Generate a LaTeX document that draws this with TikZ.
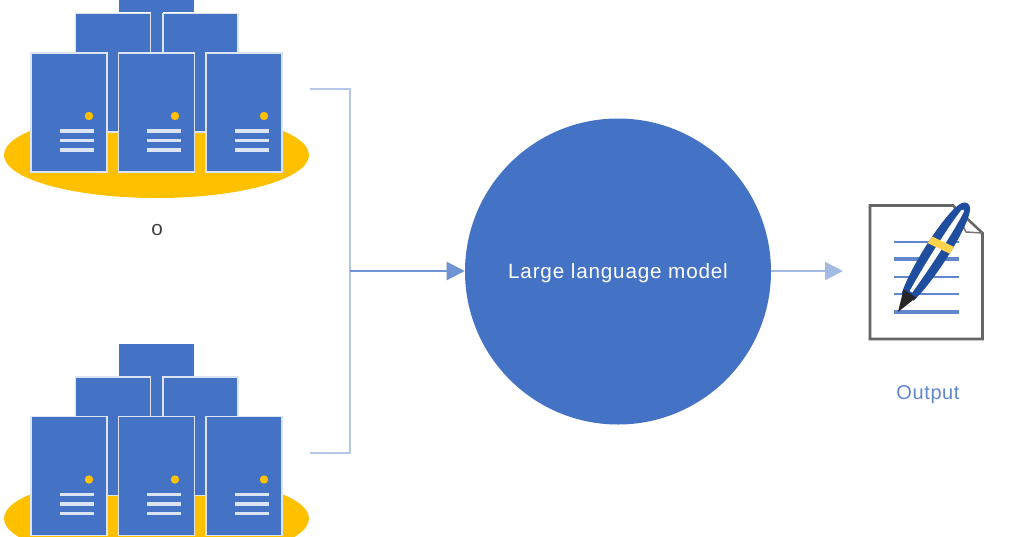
\documentclass[tikz,border=0pt]{standalone}
\usepackage{fontspec}
\setmainfont{Liberation Sans}
\usetikzlibrary{arrows.meta}
\definecolor{mblue}{HTML}{4472C4}
\definecolor{mgold}{HTML}{FFC000}
\definecolor{medge}{HTML}{DCE4F3}
\definecolor{brk}{HTML}{B4C7E7}
\definecolor{arr}{HTML}{6F93D3}
\definecolor{arrb}{HTML}{A3BAE3}
\definecolor{penblue}{HTML}{1F4E9E}
\tikzset{
  x=0.75pt,y=-0.75pt,
  box/.style={fill=mblue,draw=medge,line width=1.3pt},
  flat/.style={fill=mblue,draw=none},
  led/.style={fill=mgold,draw=none},
  slot/.style={draw=medge,line width=2.4pt},
  bracket/.style={draw=brk,line width=1.6pt},
  flow/.style={line width=1.7pt,-{Triangle[length=13.5pt,width=13.5pt]}},
  docline/.style={draw=mblue!85!white,line width=1.1pt},
  doclinethick/.style={draw=mblue!85!white,line width=2.3pt},
  lbl/.style={font=\fontsize{15.5}{17}\selectfont\addfontfeature{LetterSpace=4},text depth=0pt},
  pics/cluster/.style={code={
    \fill[mgold] (156.5,155) ellipse [x radius=152.5,y radius=43];
    \fill[flat] (119,-20) rectangle (194,12);
    \fill[flat] (151,12) rectangle (163,53);
    \path[box] (75.5,13.5) rectangle (150.5,132);
    \path[box] (163,13.5) rectangle (238,132);
    \draw[medge,line width=1.3pt] (75.5,132) -- (238,132);
    \foreach \xa/\xb/\xd/\xs in {31/107/89/60, 118.5/194.5/175/146.5, 206/282/264/235}{
      \path[box] (\xa,53) rectangle (\xb,172);
      \fill[led] (\xd,116) circle [radius=4.2];
      \foreach \yy in {131,140.5,150}{\draw[slot] (\xs,\yy) -- ++(34,0);}
    }
  }}
}
\begin{document}
\begin{tikzpicture}
\useasboundingbox (0,0) rectangle (1024,536);
\clip (0,0) rectangle (1024,536);
\pic at (0,0) {cluster};
\pic at (0,363.5) {cluster};
\node[text=black!75,font=\fontsize{15.5}{17}\selectfont,text depth=0pt] (olabel) at (157,230) {o};
\coordinate (bt) at (310,89);
\coordinate (bb) at (310,453);
\coordinate (bm) at (350,271);
\draw[bracket] (bt) -- (350,89) -- (350,453) -- (bb);
\node[circle,fill=mblue,minimum size=229.5pt,inner sep=0pt,text=white,lbl] (llm) at (618,271.5) {Large language model};
\draw[flow,draw=arr,fill=arr] (bm) -- (llm.west |- bm);
\coordinate (outend) at (843,271);
\draw[flow,draw=arrb,fill=arrb] (llm.east |- outend) -- (outend);
% document
\path[fill=white,draw=black!60,line width=1.9pt] (870,205.5) -- (953,205.5) -- (982.5,233) -- (982.5,339) -- (870,339) -- cycle;
\draw[black!55,line width=1.1pt] (953,205.5) -- (966,232) -- (982.5,233);
\draw[docline] (894,242) -- (959,242);
\draw[doclinethick] (894,259) -- (959,259);
\draw[docline] (894,277) -- (959,277);
\draw[docline] (894,294) -- (959,294);
\draw[doclinethick] (894,312) -- (959,312);
\begin{scope}[shift={(898,312)},x={(0.404pt,0.632pt)},y={(0.632pt,-0.404pt)}]
\fill[penblue] (18,-7) .. controls (45,-14) and (112,-14) .. (126,-5) .. controls (130,-2.5) and (130,2.5) .. (126,5) .. controls (112,14) and (45,14) .. (18,7) -- cycle;
\fill[white] (24,-1.5) .. controls (60,-3.5) and (100,-3.5) .. (120,-1.5) .. controls (122,-1) and (122,1) .. (120,1.5) .. controls (100,3.5) and (60,3.5) .. (24,1.5) -- cycle;
\fill[black!85] (0,0) -- (22,-7.5) -- (22,7.5) -- cycle;
\fill[mgold!70!white] (74,-12) -- (82,-12) -- (85,12) -- (77,12) -- cycle;
\end{scope}
\node[text=mblue!85!white,lbl,font=\fontsize{15}{17}\selectfont\addfontfeature{LetterSpace=3}] (outlabel) at (928,392.5) {Output};
\end{tikzpicture}
\end{document}
